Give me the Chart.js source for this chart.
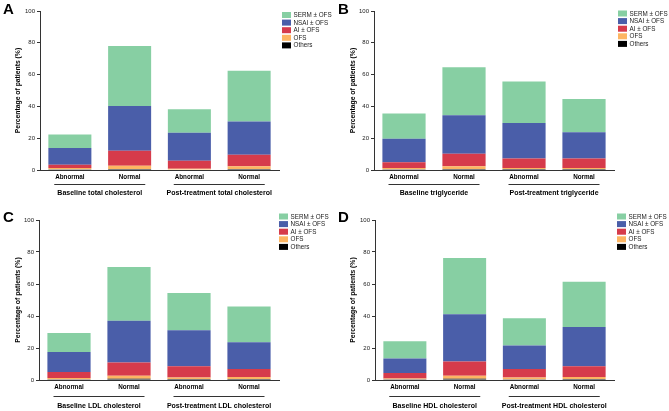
<!DOCTYPE html>
<html>
<head>
<meta charset="utf-8">
<script src="https://cdn.jsdelivr.net/npm/chart.js@4.4.1/dist/chart.umd.min.js"></script>
<style>
  html, body { margin: 0; padding: 0; background: #fff; }
  #wrap { position: relative; width: 669px; height: 411px; }
  .panel { position: absolute; }
</style>
</head>
<body>
<div id="wrap">
  <div class="panel" style="left:0;top:0;width:334px;height:205px"><canvas id="cA"></canvas></div>
  <div class="panel" style="left:335px;top:0;width:334px;height:205px"><canvas id="cB"></canvas></div>
  <div class="panel" style="left:0;top:205px;width:334px;height:206px"><canvas id="cC"></canvas></div>
  <div class="panel" style="left:335px;top:205px;width:334px;height:206px"><canvas id="cD"></canvas></div>
</div>
<script>
var categories = ["Abnormal", "Normal", "Abnormal", "Normal"]
var panelLetters = ["A", "B", "C", "D"]
var groupLabels = [
  ["Baseline total cholesterol", "Post-treatment total cholesterol"],
  ["Baseline triglyceride", "Post-treatment triglyceride"],
  ["Baseline LDL cholesterol", "Post-treatment LDL cholesterol"],
  ["Baseline HDL cholesterol", "Post-treatment HDL cholesterol"]
]
var yTicks = [0, 20, 40, 60, 80, 100]

// one row per panel (A, B, C, D), one value per bar
var others = [[0.4, 0.7, 0.3, 0.6], [0.5, 0.6, 0.6, 0.6], [0.5, 0.8, 0.6, 0.7], [0.4, 0.8, 0.5, 0.6]]
var ofs    = [[0.8, 2.0, 0.5, 1.7], [0.7, 1.7, 0.7, 0.7], [0.8, 1.9, 0.9, 1.2], [0.6, 1.9, 1.0, 1.3]]
var ai     = [[2.1, 9.4, 5.0, 7.3], [3.6, 7.9, 6.0, 6.0], [3.7, 8.2, 7.1, 5.0], [3.4, 8.8, 5.4, 6.7]]
var nsai   = [[10.5, 28.2, 17.6, 20.9], [14.8, 24.2, 22.3, 16.5], [12.5, 26.1, 22.5, 16.7], [9.0, 29.6, 14.6, 24.6]]
var serm   = [[8.5, 37.7, 14.8, 31.9], [15.9, 30.3, 26.1, 20.9], [11.9, 33.6, 23.2, 22.3], [10.8, 35.1, 17.1, 28.2]]

var seriesNames = ["Others", "OFS", "AI ± OFS", "NSAI ± OFS", "SERM ± OFS"]
var seriesData = [others, ofs, ai, nsai, serm]
var colors = ["#000000", "#fdb562", "#d63b4b", "#4a5ea9", "#87cfa3"]

var FONT = "'Liberation Sans', Arial, Helvetica, sans-serif"

// per panel layout: chart area top/bottom inside its canvas
var layouts = [
  { top: 11, bottom: 170, left: 40, right: 279, lineOff: 14, textOff: 23, legX: 282, legY: 15, letterY: 10 },
  { top: 11, bottom: 170, left: 39, right: 279, lineOff: 14, textOff: 23, legX: 283, legY: 13.5, letterY: 10 },
  { top: 15, bottom: 175, left: 39, right: 279, lineOff: 16, textOff: 26.5, legX: 279, legY: 11.5, letterY: 12.5 },
  { top: 15, bottom: 175, left: 40, right: 279, lineOff: 16, textOff: 26.5, legX: 282, legY: 11.5, letterY: 13 }
]

var extras = {
  id: "extras",
  afterDraw: function (chart) {
    var o = chart.options.plugins.extras
    var L = o.layout
    var ctx = chart.ctx
    var x = chart.scales.x
    var yb = chart.chartArea.bottom
    ctx.save()
    // group underlines and labels
    for (var g = 0; g < 2; g++) {
      var c = (x.getPixelForValue(g * 2) + x.getPixelForValue(g * 2 + 1)) / 2
      ctx.strokeStyle = "#333"
      ctx.lineWidth = 1
      ctx.beginPath()
      ctx.moveTo(c - 45.5, yb + L.lineOff + 0.5)
      ctx.lineTo(c + 45.5, yb + L.lineOff + 0.5)
      ctx.stroke()
      ctx.fillStyle = "#000"
      ctx.font = "bold 7px " + FONT
      ctx.textAlign = "center"
      ctx.textBaseline = "middle"
      ctx.fillText(o.groups[g], c, yb + L.textOff)
    }
    // legend, top entry first
    ctx.font = "6.3px " + FONT
    ctx.textAlign = "left"
    for (var i = 0; i < seriesNames.length; i++) {
      var k = seriesNames.length - 1 - i
      var ry = L.legY + i * 7.6
      ctx.fillStyle = colors[k]
      ctx.fillRect(L.legX, ry - 3, 9, 6)
      ctx.fillStyle = "#222"
      ctx.fillText(seriesNames[k], L.legX + 11.5, ry + 0.3)
    }
    // panel letter
    ctx.fillStyle = "#000"
    ctx.font = "bold 15px " + FONT
    ctx.textAlign = "left"
    ctx.fillText(o.letter, 3, L.letterY)
    ctx.restore()
  }
}

function makeChart(id, p) {
  var L = layouts[p]
  var h = p < 2 ? 205 : 206
  var datasets = seriesNames.map(function (name, s) {
    return {
      label: name,
      data: seriesData[s][p],
      backgroundColor: colors[s],
      borderWidth: 0,
      categoryPercentage: 0.72,
      barPercentage: 1
    }
  })
  return new Chart(document.getElementById(id), {
    type: "bar",
    data: { labels: categories, datasets: datasets },
    plugins: [extras],
    options: {
      responsive: true,
      maintainAspectRatio: false,
      animation: false,
      layout: { padding: { top: L.top, right: 334 - L.right, bottom: 0, left: 0 } },
      plugins: {
        legend: { display: false },
        tooltip: { enabled: false },
        extras: { layout: L, groups: groupLabels[p], letter: panelLetters[p] }
      },
      scales: {
        x: {
          stacked: true,
          afterFit: function (s) { s.height = h - L.bottom },
          grid: { display: false, drawTicks: false },
          border: { display: true, color: "#333", width: 1 },
          ticks: { color: "#000", padding: 3, font: { family: FONT, size: 6.3, weight: "bold" } }
        },
        y: {
          stacked: true,
          min: 0,
          max: 100,
          afterFit: function (s) { s.width = L.left },
          afterBuildTicks: function (s) { s.ticks = yTicks.map(function (v) { return { value: v } }) },
          grid: { display: true, drawOnChartArea: false, drawTicks: true, tickLength: 3, color: "#333" },
          border: { display: true, color: "#333", width: 1 },
          ticks: { color: "#222", padding: 2, font: { family: FONT, size: 6 } },
          title: {
            display: true,
            text: "Percentage of patients (%)",
            color: "#000",
            padding: { top: 14.5, bottom: 0 },
            font: { family: FONT, size: 6.8, weight: "bold" }
          }
        }
      }
    }
  })
}

makeChart("cA", 0)
makeChart("cB", 1)
makeChart("cC", 2)
makeChart("cD", 3)
</script>
</body>
</html>
